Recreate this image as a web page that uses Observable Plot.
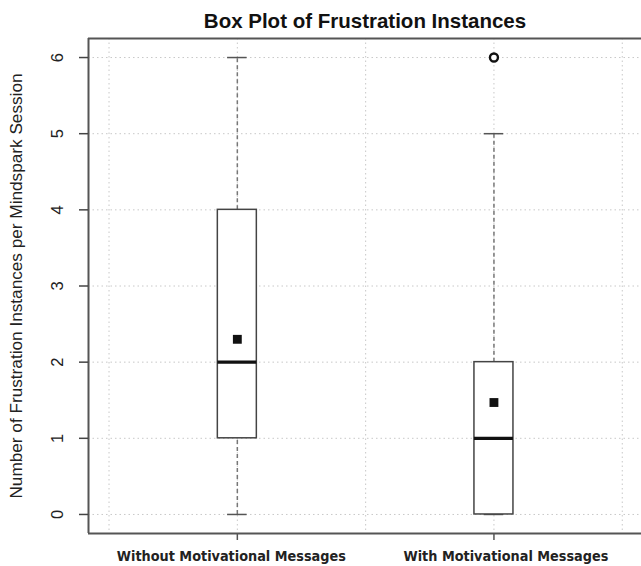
<!DOCTYPE html>
<html>
<head>
<meta charset="utf-8">
<script src="https://cdn.jsdelivr.net/npm/d3@7"></script>
<script src="https://cdn.jsdelivr.net/npm/@observablehq/plot@0.6"></script>
<style>
  html, body { margin: 0; padding: 0; background: #fff; }
  #chart { width: 641px; height: 566px; overflow: hidden; }
  .xlab text { font-family: "DejaVu Sans Condensed", "Liberation Sans Narrow", sans-serif; font-stretch: condensed; }
</style>
</head>
<body>
<div id="chart"></div>
<script>
const title = "Box Plot of Frustration Instances";
const yLabel = "Number of Frustration Instances per Mindspark Session";
const groups = ["Without Motivational Messages", "With Motivational Messages"];
const positions = [1, 2];
const whiskerLow = [0, 0];
const q1 = [1, 0];
const median = [2, 1];
const q3 = [4, 2];
const whiskerHigh = [6, 5];
const means = [2.3, 1.47];
const outlierPos = [2];
const outlierVal = [6];
const yTicks = [0, 1, 2, 3, 4, 5, 6];
const xGrid = [0.5, 1, 1.5, 2, 2.5];
const xDomain = [0.42, 2.575];
const yDomain = [-0.25, 6.25];
const labelShift = [-6, 12]; // horizontal offset of each category label (px)

const hw = 0.076;   // half box width (x units)
const cw = 0.038;   // half cap width
const boxes = groups.map((g, i) => ({
  g, x: positions[i], lo: whiskerLow[i], q1: q1[i], med: median[i], q3: q3[i], hi: whiskerHigh[i], mean: means[i]
}));
const outliers = outlierPos.map((p, i) => ({x: p, y: outlierVal[i]}));

const chart = Plot.plot({
  width: 641,
  height: 566,
  marginLeft: 88,
  marginRight: 0,
  marginTop: 38,
  marginBottom: 33,
  style: {fontFamily: "'Liberation Sans', Arial, sans-serif", background: "#fff", overflow: "visible"},
  x: {domain: xDomain, axis: null},
  y: {domain: yDomain, axis: null},
  marks: [
    // grid
    Plot.ruleX(xGrid, {stroke: "#c8c8c8", strokeWidth: 1, strokeDasharray: "1.5,3"}),
    Plot.ruleY(yTicks, {stroke: "#c8c8c8", strokeWidth: 1, strokeDasharray: "1.5,3"}),
    // whiskers
    Plot.ruleX(boxes, {x: "x", y1: "q3", y2: "hi", stroke: "#777", strokeWidth: 1.5, strokeDasharray: "4,3"}),
    Plot.ruleX(boxes, {x: "x", y1: "lo", y2: "q1", stroke: "#777", strokeWidth: 1.5, strokeDasharray: "4,3"}),
    // caps
    Plot.ruleY(boxes, {y: "hi", x1: d => d.x - cw, x2: d => d.x + cw, stroke: "#555", strokeWidth: 1.5}),
    Plot.ruleY(boxes, {y: "lo", x1: d => d.x - cw, x2: d => d.x + cw, stroke: "#555", strokeWidth: 1.5}),
    // boxes
    Plot.rect(boxes, {x1: d => d.x - hw, x2: d => d.x + hw, y1: "q1", y2: "q3", fill: "#fff", stroke: "#444", strokeWidth: 1.5}),
    // medians
    Plot.ruleY(boxes, {y: "med", x1: d => d.x - hw, x2: d => d.x + hw, stroke: "#111", strokeWidth: 3.2}),
    // means
    Plot.dot(boxes, {x: "x", y: "mean", symbol: "square", r: 5, fill: "#111"}),
    // outliers
    Plot.dot(outliers, {x: "x", y: "y", r: 4, stroke: "#111", strokeWidth: 2.4, fill: "#fff"}),
    // frame (left, top, bottom)
    Plot.ruleX([xDomain[0]], {stroke: "#555", strokeWidth: 2}),
    Plot.ruleY([yDomain[0]], {stroke: "#555", strokeWidth: 2}),
    Plot.ruleY([yDomain[1]], {stroke: "#555", strokeWidth: 2}),
    // y axis
    Plot.axisY(yTicks, {tickSize: 9, tickPadding: 17, tickRotate: -90, fontSize: 16.5, stroke: "#444", fill: "#222", strokeWidth: 1.5,
      tickFormat: d => String(d), label: null}),
    // x axis ticks
    Plot.axisX(positions, {tickSize: 7, stroke: "#555", strokeWidth: 1.5, tickFormat: () => "", label: null}),
    // x category labels
    ...groups.map((g, i) => Plot.text([g], {x: positions[i], frameAnchor: "bottom", dy: 23, dx: labelShift[i],
      lineAnchor: "middle", fontSize: 14.3, fontWeight: "bold", fill: "#222", className: "xlab"})),
    // y label
    Plot.text([yLabel], {frameAnchor: "left", dx: -72, rotate: -90, textAnchor: "middle", fontSize: 17.2, fill: "#222"}),
    // title
    Plot.text([title], {frameAnchor: "top", dy: -25, fontSize: 20.5, fontWeight: "bold", fill: "#111"})
  ]
});
document.getElementById("chart").appendChild(chart);
</script>
</body>
</html>
